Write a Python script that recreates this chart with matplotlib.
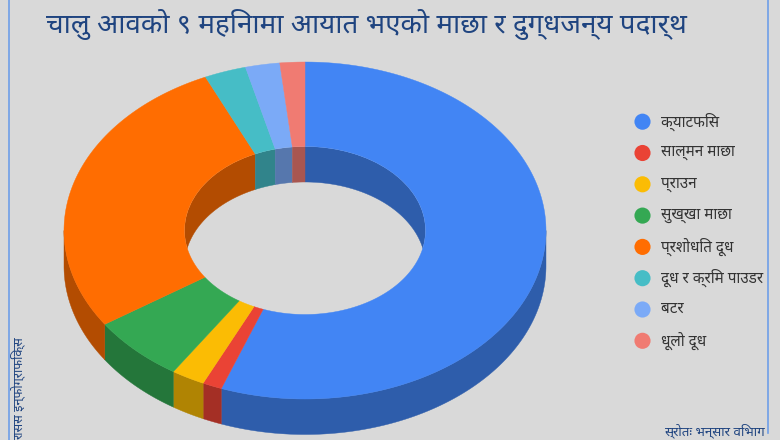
import numpy as np
import matplotlib
matplotlib.use('Agg')
import matplotlib.pyplot as plt
from matplotlib.patches import Ellipse
from matplotlib import font_manager as fm

# --- data ---
categories = ['क्याटफिस', 'साल्मन माछा', 'प्राउन', 'सुख्खा माछा',
              'प्रशोधित दूध', 'दूध र क्रिम पाउडर', 'बटर', 'धूलो दूध']
shares = [55.6, 1.3, 2.25, 6.4, 27.6, 2.8, 2.3, 1.67]
colors = ['#4285f4', '#ea4335', '#fbbc04', '#34a853',
          '#ff6d01', '#46bdc6', '#7baaf7', '#f07b72']
title = 'चालु आवको ९ महिनामा आयात भएको माछा र दुग्धजन्य पदार्थ'
source = 'स्रोतः भन्सार विभाग'
credit = 'रासस इन्फोग्राफिक्स'

avail = {f.name for f in fm.fontManager.ttflist}
font = next((n for n in ['Noto Sans Devanagari', 'Mukta', 'Hind', 'Poppins', 'FreeSans'] if n in avail), 'FreeSans')
plt.rcParams['font.family'] = [font, 'DejaVu Sans']

BG = '#d9d9d9'
FRAME = '#6f9fe8'
NAVY = '#1f4480'

# geometry of the tilted ring (figure pixels)
CX = 305.0
CY = 230.5
OUT_RX, OUT_RY = 241.0, 168.5
IN_RX, IN_RY = 120.5, 84.0
DEPTH = 35.5

fig = plt.figure(figsize=(7.8, 4.4), dpi=100, facecolor=BG)
ax = fig.add_axes([0, 0, 1, 1])
ax.set_xlim(0, 780)
ax.set_ylim(440, 0)
ax.axis('off')


def outer(t, dy=0.0):
    return CX + OUT_RX * np.sin(t), CY - OUT_RY * np.cos(t) + dy


def inner(t, dy=0.0):
    return CX + IN_RX * np.sin(t), CY - IN_RY * np.cos(t) + dy


def dark(c, k=0.70):
    return tuple(k * v for v in matplotlib.colors.to_rgb(c))


fr = np.array(shares) / np.sum(shares) * 2 * np.pi
stops = np.concatenate([[0], np.cumsum(fr)])

# hole clip for the inner wall
hole = Ellipse((CX, CY), 2 * IN_RX, 2 * IN_RY, transform=ax.transData, fc='none', ec='none')
ax.add_patch(hole)

for a, b, c in zip(stops[:-1], stops[1:], colors):
    # outer wall: the near half of the ring
    lo, hi = max(a, np.pi / 2), min(b, 3 * np.pi / 2)
    if hi > lo:
        t = np.linspace(lo, hi, 120)
        x, y = outer(t)
        x2, y2 = outer(t[::-1], DEPTH)
        ax.fill(np.r_[x, x2], np.r_[y, y2], color=dark(c), lw=0.3, zorder=1)
    # inner wall: the far half, seen through the hole
    for lo, hi in [(a, min(b, np.pi / 2)), (max(a, 3 * np.pi / 2), b)]:
        if hi > lo:
            t = np.linspace(lo, hi, 120)
            x, y = inner(t)
            x2, y2 = inner(t[::-1], DEPTH)
            for p in ax.fill(np.r_[x, x2], np.r_[y, y2], color=dark(c), lw=0.3, zorder=1):
                p.set_clip_path(hole)
    # top face
    t = np.linspace(a, b, 240)
    x, y = outer(t)
    x2, y2 = inner(t[::-1])
    ax.fill(np.r_[x, x2], np.r_[y, y2], color=c, lw=0.3, zorder=2)

# legend
legend_y = 121.7 + 31.3 * np.arange(len(categories))
ax.scatter([642.5] * len(categories), legend_y, s=135, c=colors, linewidths=0, zorder=3)
for yy, name in zip(legend_y, categories):
    ax.text(661, yy, name, fontsize=11, color='#333333', va='center', ha='left')

# texts
ax.text(46, 24, title, fontsize=20, color=NAVY, va='center', ha='left', fontweight='bold')
ax.text(765, 431, source, fontsize=9.6, color=NAVY, va='center', ha='right')
ax.text(18, 440, credit, fontsize=9.2, color=NAVY, rotation=90, va='bottom', ha='center')

# frame lines
ax.plot([9, 9], [0, 440], color=FRAME, lw=1.2, zorder=4)
ax.plot([768, 768], [0, 433], color=FRAME, lw=1.2, zorder=4)

fig.savefig('out.png', dpi=100, facecolor=BG)
